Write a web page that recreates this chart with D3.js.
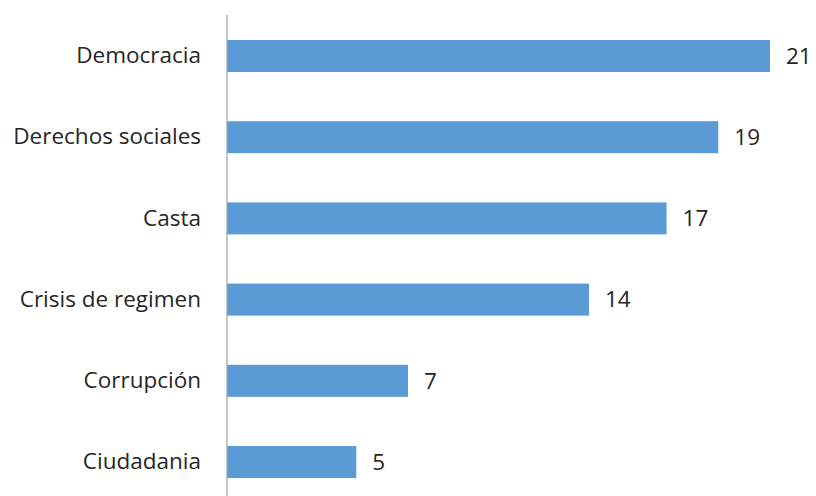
<!DOCTYPE html>
<html>
<head>
<meta charset="utf-8">
<script src="https://cdn.jsdelivr.net/npm/d3@7"></script>
<style>
  body { margin: 0; background: #fff; }
  text { font-family: "Open Sans", sans-serif; fill: #262626; }
</style>
</head>
<body>
<div id="chart"></div>
<script>
const categories = ["Democracia", "Derechos sociales", "Casta", "Crisis de regimen", "Corrupción", "Ciudadania"];
const values = [21, 19, 17, 14, 7, 5];

const width = 816, height = 496;
const axisX = 227;

const svg = d3.select("#chart").append("svg")
    .attr("width", width)
    .attr("height", height);

const xScale = d3.scaleLinear()
    .domain([0, 21])
    .range([axisX, 770]);

const yScale = d3.scaleBand()
    .domain(categories)
    .range([15.4, 502.6])
    .paddingInner(0.606)
    .paddingOuter(0.303);

svg.selectAll("rect.bar")
    .data(categories)
    .enter().append("rect")
    .attr("class", "bar")
    .attr("x", xScale(0))
    .attr("y", d => yScale(d))
    .attr("width", (d, i) => xScale(values[i]) - xScale(0))
    .attr("height", yScale.bandwidth())
    .attr("fill", "#5b9bd5");

// category axis
const yAxis = d3.axisLeft(yScale).tickSize(0).tickPadding(26);
const gy = svg.append("g")
    .attr("class", "axis yaxis")
    .attr("transform", "translate(" + axisX + ",0)")
    .call(yAxis);
gy.select(".domain").remove();
gy.attr("font-size", null).attr("font-family", null);
gy.selectAll("text")
    .style("font-size", "22.5px")
    .attr("fill", "#262626");

svg.append("line")
    .attr("x1", axisX).attr("x2", axisX)
    .attr("y1", 15).attr("y2", height)
    .attr("stroke", "#a6a6a6")
    .attr("stroke-width", 1.3);

svg.selectAll("text.value")
    .data(categories)
    .enter().append("text")
    .attr("class", "value")
    .attr("x", (d, i) => xScale(values[i]) + 16)
    .attr("y", d => yScale(d) + yScale.bandwidth() / 2)
    .attr("dy", "0.35em")
    .style("font-size", "22.5px")
    .text((d, i) => values[i]);
</script>
</body>
</html>
